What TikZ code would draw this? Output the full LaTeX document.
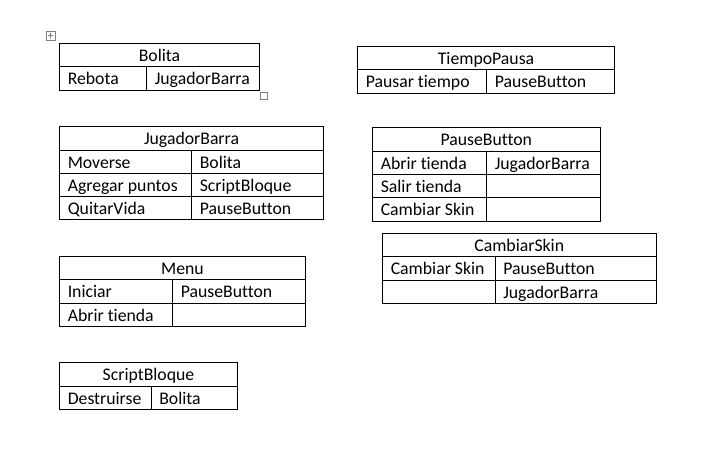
\documentclass[tikz,border=0pt]{standalone}
\usepackage{fontspec}
\setmainfont{Carlito}[Ligatures=NoCommon]
\usetikzlibrary{arrows.meta}
\newcommand{\cellfont}{\fontsize{13.3}{16}\selectfont}
\tikzset{
  grid/.style={draw=black, line width=0.75pt},
  hd/.style={font=\cellfont, inner sep=0pt, anchor=base},
  cl/.style={font=\cellfont, inner sep=0pt, anchor=base west},
  handle/.style={draw=black!50, line width=0.6pt}
}

\begin{document}
\begin{tikzpicture}[x=0.75pt, y=-0.75pt]
\useasboundingbox (0,0) rectangle (702,458);

% Bolita
\draw[handle] (46,31) rectangle (55,40);
\draw[handle, {Stealth[length=1.4pt]}-{Stealth[length=1.4pt]}] (47.5,35.5) -- (53.5,35.5);
\draw[handle, {Stealth[length=1.4pt]}-{Stealth[length=1.4pt]}] (50.5,32.5) -- (50.5,38.5);
\draw[grid] (59.5,43.5) rectangle (259.5,90);
\draw[grid] (59.5,66.5) -- (259.5,66.5) (146.5,66.5) -- (146.5,90);
\draw[handle] (260,92) rectangle (267,99);
\node[hd] (bol-h) at (159.5,61) {Bolita};
\node[cl] (bol-a1) at (67.5,84.5) {Rebota};
\node[cl] (bol-b1) at (154.5,84.5) {JugadorBarra};

% JugadorBarra
\draw[grid] (59.5,126.5) rectangle (323.5,219.5);
\foreach \y in {150,173.5,196.5} \draw[grid] (59.5,\y) -- (323.5,\y);
\draw[grid] (191.5,150) -- (191.5,219.5);
\node[hd] (jb-h) at (191.5,144.5) {JugadorBarra};
\node[cl] (jb-a1) at (67.5,168) {Moverse};
\node[cl] (jb-b1) at (199.5,168) {Bolita};
\node[cl] (jb-a2) at (67.5,191) {Agregar puntos};
\node[cl] (jb-b2) at (199.5,191) {ScriptBloque};
\node[cl] (jb-a3) at (67.5,214) {QuitarVida};
\node[cl] (jb-b3) at (199.5,214) {PauseButton};

% Menu
\draw[grid] (59.5,256) rectangle (305.5,326.5);
\foreach \y in {279.5,303} \draw[grid] (59.5,\y) -- (305.5,\y);
\draw[grid] (172.5,279.5) -- (172.5,326.5);
\node[hd] (men-h) at (182.5,274) {Menu};
\node[cl] (men-a1) at (67.5,297.5) {Iniciar};
\node[cl] (men-b1) at (180.5,297.5) {PauseButton};
\node[cl] (men-a2) at (67.5,321) {Abrir tienda};

% ScriptBloque
\draw[grid] (59.5,362.5) rectangle (237.5,409.5);
\draw[grid] (59.5,386) -- (237.5,386) (151,386) -- (151,409.5);
\node[hd] (sb-h) at (148.5,380.5) {ScriptBloque};
\node[cl] (sb-a1) at (67.5,404) {Destruirse};
\node[cl] (sb-b1) at (159,404) {Bolita};

% TiempoPausa
\draw[grid] (357.5,46) rectangle (614.5,93);
\draw[grid] (357.5,69.5) -- (614.5,69.5) (486.5,69.5) -- (486.5,93);
\node[hd] (tp-h) at (486,64) {TiempoPausa};
\node[cl] (tp-a1) at (365.5,87.5) {Pausar tiempo};
\node[cl] (tp-b1) at (494.5,87.5) {PauseButton};

% PauseButton
\draw[grid] (372.5,127.5) rectangle (600,221);
\foreach \y in {151,174.5,197.5} \draw[grid] (372.5,\y) -- (600,\y);
\draw[grid] (486.5,151) -- (486.5,221);
\node[hd] (pb-h) at (486.25,145.5) {PauseButton};
\node[cl] (pb-a1) at (380.5,169) {Abrir tienda};
\node[cl] (pb-b1) at (494.5,169) {JugadorBarra};
\node[cl] (pb-a2) at (380.5,192) {Salir tienda};
\node[cl] (pb-a3) at (380.5,215.5) {Cambiar Skin};

% CambiarSkin
\draw[grid] (382.5,233.5) rectangle (656,303.5);
\foreach \y in {256.5,280} \draw[grid] (382.5,\y) -- (656,\y);
\draw[grid] (495,256.5) -- (495,303.5);
\node[hd] (cs-h) at (519.25,251) {CambiarSkin};
\node[cl] (cs-a1) at (390.5,274.5) {Cambiar Skin};
\node[cl] (cs-b1) at (503,274.5) {PauseButton};
\node[cl] (cs-b2) at (503,298) {JugadorBarra};
\end{tikzpicture}
\end{document}
